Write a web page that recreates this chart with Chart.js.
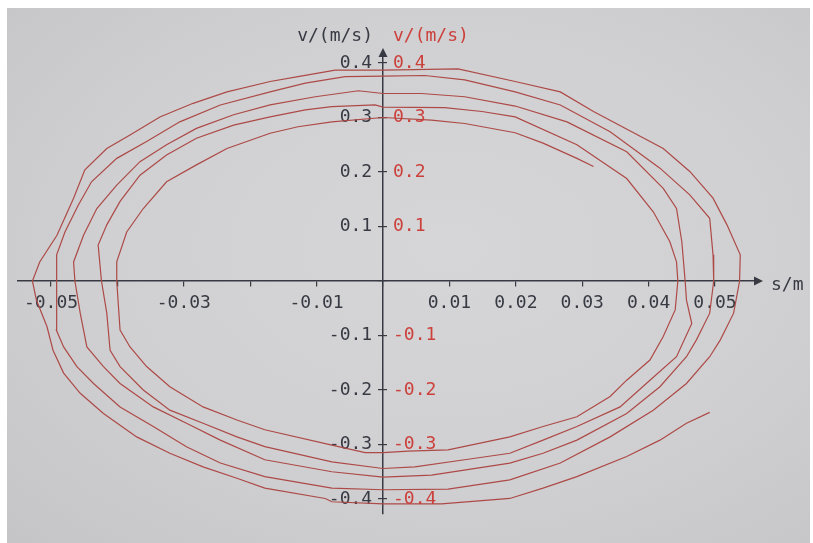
<!DOCTYPE html>
<html>
<head>
<meta charset="utf-8">
<script src="https://cdn.jsdelivr.net/npm/chart.js@4.4.1/dist/chart.umd.min.js"></script>
<style>
  html, body { margin: 0; padding: 0; background: #ffffff; }
  #frame {
    position: absolute; left: 7px; top: 8px; width: 803px; height: 535px;
    background: radial-gradient(ellipse at 55% 45%, #d6d6d8 0%, #d0d0d2 55%, #c5c5c8 100%);
  }
  #wrap { position: absolute; left: 0; top: 0; width: 813px; height: 543px; }
</style>
</head>
<body>
<div id="frame"></div>
<div id="wrap"><canvas id="phase" width="813" height="543"></canvas></div>
<script>
// Phase-space trace of a damped oscillator: displacement s (m) against velocity v (m/s).
const displacement = [
  0.0492, 0.0457, 0.0417, 0.0367, 0.0292, 0.0241, 0.0191, 0.0088, 0.0000, -0.0077, -0.0087, -0.0178,
  -0.0220, -0.0271, -0.0321, -0.0371, -0.0421, -0.0456, -0.0481, -0.0497, -0.0506, -0.0522, -0.0528,
  -0.0517, -0.0491, -0.0466, -0.0449, -0.0416, -0.0381, -0.0336, -0.0286, -0.0235, -0.0170, -0.0128,
  -0.0072, 0.0000, 0.0113, 0.0199, 0.0267, 0.0317, 0.0422, 0.0462, 0.0497, 0.0518, 0.0538, 0.0537,
  0.0528, 0.0508, 0.0492, 0.0457, 0.0407, 0.0342, 0.0267, 0.0191, 0.0098, 0.0000, -0.0077, -0.0178,
  -0.0245, -0.0296, -0.0346, -0.0396, -0.0436, -0.0461, -0.0481, -0.0492, -0.0492,
  -0.0491, -0.0479, -0.0459, -0.0439, -0.0401, -0.0356, -0.0306, -0.0245, -0.0170, -0.0117, -0.0057,
  0.0000, 0.0063, 0.0123, 0.0199, 0.0267, 0.0342, 0.0417, 0.0462, 0.0492, 0.0497, 0.0498,
  0.0492, 0.0472, 0.0457, 0.0417, 0.0367, 0.0292, 0.0241, 0.0191, 0.0073, 0.0000, -0.0077, -0.0178,
  -0.0245, -0.0296, -0.0346, -0.0396, -0.0421, -0.0446, -0.0456, -0.0464,
  -0.0466, -0.0451, -0.0431, -0.0401, -0.0366, -0.0326, -0.0281, -0.0225, -0.0170, -0.0102, -0.0037,
  0.0000, 0.0058, 0.0123, 0.0199, 0.0277, 0.0367, 0.0422, 0.0442, 0.0450, 0.0455,
  0.0457, 0.0465, 0.0442, 0.0402, 0.0357, 0.0292, 0.0241, 0.0191, 0.0123, 0.0048, 0.0000, -0.0077,
  -0.0178, -0.0220, -0.0271, -0.0321, -0.0361, -0.0396, -0.0411, -0.0416, -0.0424,
  -0.0429, -0.0416, -0.0396, -0.0366, -0.0326, -0.0281, -0.0225, -0.0170, -0.0117, -0.0077, -0.0012,
  0.0000, 0.0093, 0.0149, 0.0199, 0.0292, 0.0367, 0.0407, 0.0432, 0.0442, 0.0444,
  0.0440, 0.0422, 0.0402, 0.0367, 0.0342, 0.0292, 0.0241, 0.0191, 0.0098, 0.0038, 0.0000, -0.0027,
  -0.0077, -0.0178, -0.0220, -0.0271, -0.0321, -0.0356, -0.0381, -0.0396, -0.0401,
  -0.0401, -0.0386, -0.0361, -0.0326, -0.0281, -0.0235, -0.0170, -0.0128, -0.0077, 0.0000, 0.0073,
  0.0123, 0.0199, 0.0241, 0.0292, 0.0317
];
const velocity = [
  -0.241, -0.261, -0.292, -0.322, -0.359, -0.380, -0.399, -0.409, -0.409, -0.405, -0.399, -0.380,
  -0.362, -0.341, -0.316, -0.286, -0.243, -0.206, -0.169, -0.127, -0.084, -0.035, 0.000,
  0.035, 0.084, 0.152, 0.204, 0.243, 0.268, 0.301, 0.326, 0.347, 0.366, 0.375,
  0.387, 0.387, 0.389, 0.366, 0.347, 0.311, 0.243, 0.201, 0.152, 0.103, 0.048, 0.000,
  -0.059, -0.108, -0.139, -0.188, -0.237, -0.286, -0.334, -0.365, -0.382, -0.383, -0.380, -0.359,
  -0.334, -0.304, -0.267, -0.231, -0.188, -0.157, -0.121, -0.090, 0.000,
  0.048, 0.090, 0.139, 0.182, 0.225, 0.256, 0.292, 0.323, 0.347, 0.363, 0.375,
  0.376, 0.377, 0.369, 0.347, 0.323, 0.274, 0.207, 0.158, 0.115, 0.048, 0.000,
  -0.059, -0.108, -0.139, -0.194, -0.243, -0.292, -0.316, -0.334, -0.356, -0.360, -0.350, -0.328,
  -0.292, -0.261, -0.231, -0.188, -0.157, -0.121, -0.059, 0.000,
  0.035, 0.084, 0.133, 0.176, 0.219, 0.250, 0.280, 0.305, 0.323, 0.338, 0.349,
  0.344, 0.344, 0.338, 0.321, 0.292, 0.237, 0.170, 0.133, 0.072, 0.000,
  -0.035, -0.078, -0.139, -0.182, -0.231, -0.267, -0.292, -0.316, -0.328, -0.341, -0.344, -0.332,
  -0.304, -0.286, -0.261, -0.237, -0.200, -0.157, -0.127, -0.059, 0.000,
  0.066, 0.103, 0.146, 0.194, 0.231, 0.262, 0.286, 0.301, 0.314, 0.320, 0.323,
  0.319, 0.318, 0.311, 0.301, 0.250, 0.188, 0.127, 0.072, 0.035, 0.000,
  -0.053, -0.102, -0.145, -0.182, -0.212, -0.249, -0.267, -0.286, -0.310, -0.312, -0.315, -0.315,
  -0.301, -0.273, -0.255, -0.231, -0.194, -0.157, -0.121, -0.090, 0.000,
  0.035, 0.090, 0.133, 0.182, 0.213, 0.243, 0.271, 0.283, 0.292, 0.300, 0.295,
  0.289, 0.272, 0.253, 0.225, 0.210
];

const sTickValues = [-0.05, -0.04, -0.03, -0.02, -0.01, 0, 0.01, 0.02, 0.03, 0.04, 0.05];
const sTickLabels = ['-0.05', '', '-0.03', '', '-0.01', '', '0.01', '0.02', '0.03', '0.04', '0.05'];
const vTickValues = [-0.4, -0.3, -0.2, -0.1, 0, 0.1, 0.2, 0.3, 0.4];
const vTickLabels = ['-0.4', '-0.3', '-0.2', '-0.1', '', '0.1', '0.2', '0.3', '0.4'];
const vTitle = 'v/(m/s)';
const sTitle = 's/m';

const AXIS = '#373a43';
const RED_TEXT = '#cc403b';
const CURVE = '#ad4a47';
const FAMILY = "'DejaVu Sans Mono', monospace";
const FONT = { family: FAMILY, size: 18 };

const points = displacement.map((s, i) => ({ x: s, y: velocity[i] }));

// Arrowheads, the red copy of the velocity scale on the right of the axis, and captions.
const axisDecor = {
  id: 'axisDecor',
  afterDraw(chart) {
    const { ctx, chartArea, scales } = chart;
    const ox = scales.x.getPixelForValue(0);
    const oy = scales.y.getPixelForValue(0);
    ctx.save();
    ctx.fillStyle = AXIS;
    ctx.beginPath();
    ctx.moveTo(chartArea.right + 8, oy);
    ctx.lineTo(chartArea.right - 1, oy - 4.5);
    ctx.lineTo(chartArea.right - 1, oy + 4.5);
    ctx.closePath();
    ctx.fill();
    ctx.beginPath();
    ctx.moveTo(ox, chartArea.top - 8);
    ctx.lineTo(ox - 4.5, chartArea.top + 1);
    ctx.lineTo(ox + 4.5, chartArea.top + 1);
    ctx.closePath();
    ctx.fill();

    ctx.font = '18px ' + FAMILY;
    ctx.textBaseline = 'middle';

    // red tick labels, left-aligned just right of the vertical axis
    const right = scales.y2;
    ctx.fillStyle = RED_TEXT;
    ctx.textAlign = 'left';
    right.ticks.forEach((t, i) => {
      const label = vTickLabels[i];
      if (label) ctx.fillText(label, ox + 10, right.getPixelForValue(t.value));
    });

    ctx.fillStyle = AXIS;
    ctx.textAlign = 'right';
    ctx.fillText(vTitle, ox - 10, chartArea.top - 20);
    ctx.fillStyle = RED_TEXT;
    ctx.textAlign = 'left';
    ctx.fillText(vTitle, ox + 10, chartArea.top - 20);
    ctx.fillStyle = AXIS;
    ctx.fillText(sTitle, chartArea.right + 16, oy + 4);
    ctx.restore();
  }
};

const vMin = -0.4275, vMax = 0.4128;

new Chart(document.getElementById('phase'), {
  type: 'scatter',
  data: {
    datasets: [{
      data: points,
      showLine: true,
      borderColor: CURVE,
      borderWidth: 1.2,
      pointRadius: 0,
      tension: 0,
      fill: false
    }]
  },
  options: {
    responsive: false,
    animation: false,
    layout: { padding: { left: 18, top: 56, right: 58, bottom: 29 } },
    plugins: { legend: { display: false }, tooltip: { enabled: false } },
    scales: {
      x: {
        type: 'linear',
        position: { y: 0 },
        min: -0.05497,
        max: 0.05602,
        afterBuildTicks: (axis) => { axis.ticks = sTickValues.map(value => ({ value })); },
        grid: { drawOnChartArea: false, drawTicks: true, tickLength: 5, color: AXIS, lineWidth: 1.2 },
        border: { color: AXIS, width: 1.5 },
        ticks: {
          autoSkip: false, maxRotation: 0, minRotation: 0, padding: 7,
          color: AXIS, font: FONT,
          callback: (value, index) => sTickLabels[index]
        }
      },
      y: {
        type: 'linear',
        axis: 'y',
        position: { x: 0 },
        min: vMin,
        max: vMax,
        afterBuildTicks: (axis) => { axis.ticks = vTickValues.map(value => ({ value })); },
        grid: { drawOnChartArea: false, drawTicks: true, tickLength: 4, color: AXIS, lineWidth: 1.2 },
        border: { color: AXIS, width: 1.5 },
        ticks: {
          autoSkip: false,
          color: AXIS, font: FONT,
          // labels sit right-aligned on the axis line; one trailing monospace cell keeps a gap
          callback: (value, index) => vTickLabels[index] ? vTickLabels[index] + ' ' : ''
        }
      },
      y2: {
        type: 'linear',
        axis: 'y',
        position: { x: 0 },
        min: vMin,
        max: vMax,
        afterBuildTicks: (axis) => { axis.ticks = vTickValues.map(value => ({ value })); },
        grid: { drawOnChartArea: false, drawTicks: true, tickLength: -4, color: AXIS, lineWidth: 1.2 },
        border: { display: false },
        ticks: { display: false }
      }
    }
  },
  plugins: [axisDecor]
});
</script>
</body>
</html>
